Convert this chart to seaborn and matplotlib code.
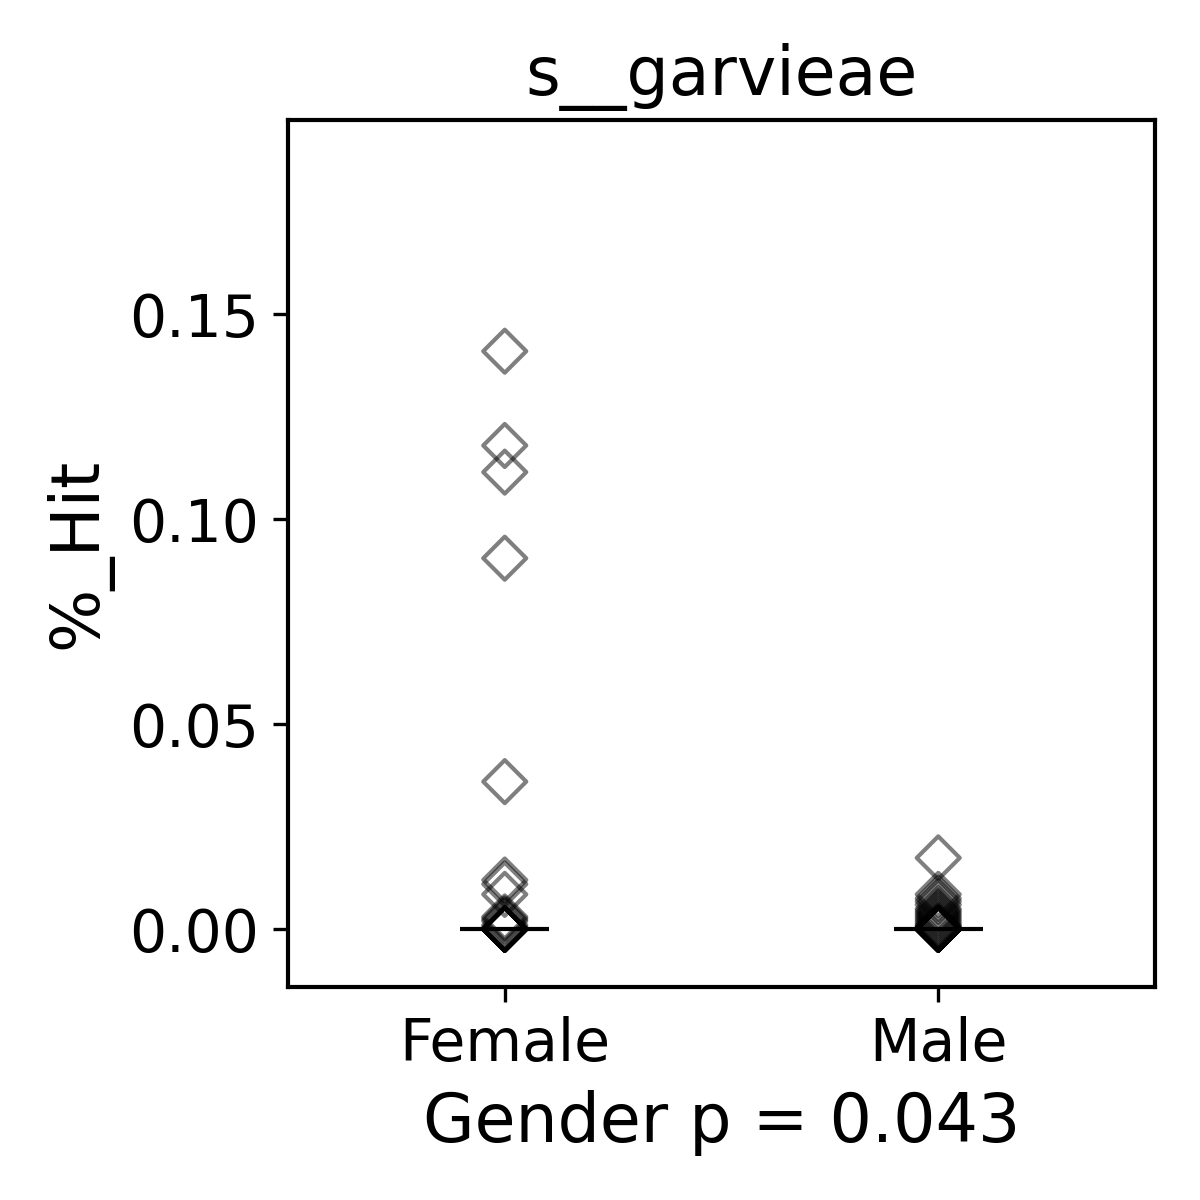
import matplotlib
matplotlib.use("Agg")
import matplotlib.pyplot as plt
import seaborn as sns
import pandas as pd

categories = ["Female", "Male"]
female_values = [0.141, 0.118, 0.1115, 0.0905, 0.036, 0.012, 0.011, 0.0085, 0.003,
                 0.0025, 0.002, 0.001, 0.0005] + [0.0] * 14
male_values = [0.0174, 0.0085, 0.0075, 0.0068, 0.006, 0.005, 0.0045, 0.004, 0.0035,
               0.003, 0.0025, 0.002, 0.0015, 0.001, 0.0008, 0.0005, 0.0003] + [0.0] * 20
title = "s__garvieae"
xlabel = "Gender p = 0.043"
ylabel = "%_Hit"
yticks = [0.00, 0.05, 0.10, 0.15]

df = pd.DataFrame({
    "Gender": ["Female"] * len(female_values) + ["Male"] * len(male_values),
    "%_Hit": female_values + male_values,
})

fig = plt.figure(figsize=(4, 4), dpi=300)
ax = fig.add_axes([0.24, 0.1775, 0.7225, 0.7225])

sns.boxplot(data=df, x="Gender", y="%_Hit", order=categories, ax=ax,
            showbox=False, showcaps=False, showfliers=False,
            whiskerprops={"visible": False},
            medianprops={"color": "black", "linewidth": 1.0},
            width=0.205)
sns.stripplot(data=df, x="Gender", y="%_Hit", order=categories, ax=ax,
              jitter=False, marker="D", size=7.3, color="black",
              linewidth=1.0, alpha=0.5)
for coll in ax.collections:
    coll.set_facecolor("none")
    coll.set_edgecolor("black")

ymax = df["%_Hit"].max()
ax.set_ylim(-0.1 * ymax, 1.4 * ymax)
ax.set_xlim(-0.5, 1.5)
ax.set_yticks(yticks)
ax.set_yticklabels([f"{t:.2f}" for t in yticks])
ax.tick_params(axis="both", labelsize=14)
ax.set_title(title, fontsize=16)
ax.set_xlabel(xlabel, fontsize=16)
ax.set_ylabel(ylabel, fontsize=16)
for s in ax.spines.values():
    s.set_visible(True)
    s.set_linewidth(1.0)

fig.savefig("out.png", dpi=300)
